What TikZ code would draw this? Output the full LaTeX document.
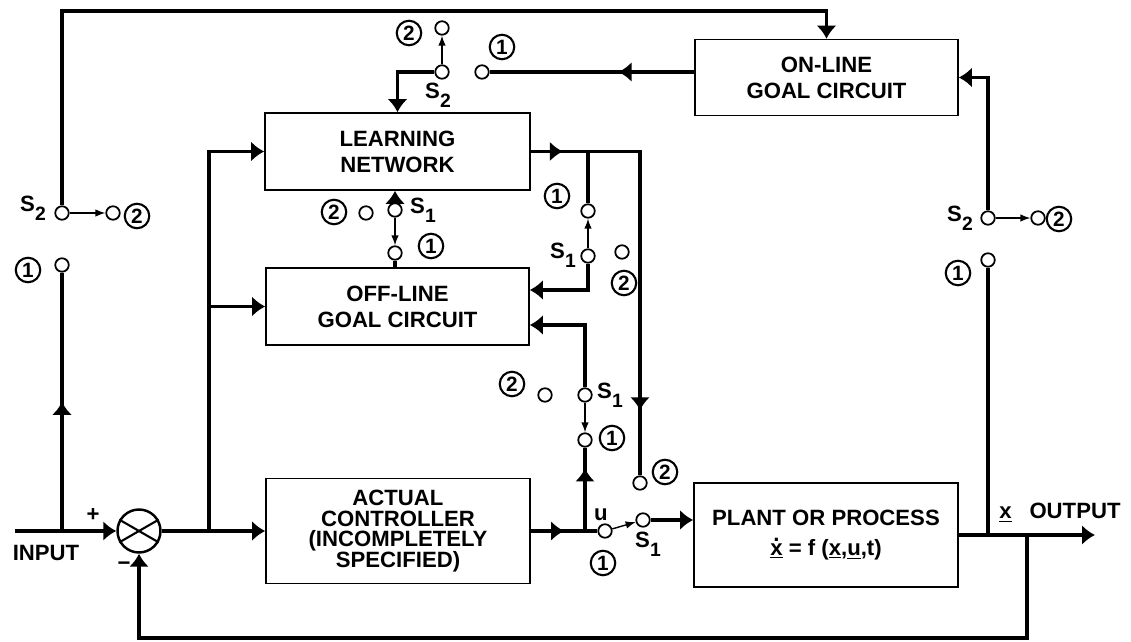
\documentclass[tikz,border=0pt]{standalone}
\usepackage{fontspec}
\setmainfont{Liberation Sans}
\usetikzlibrary{arrows.meta,decorations.markings}
\newcommand\swS[1]{S\raisebox{-0.4em}{\fontsize{11}{11}\selectfont #1}}
\newcommand\xdot{\ooalign{x\cr\hidewidth\raisebox{0.62em}{.}\hidewidth\cr}}
\tikzset{
  blk/.style={draw, line width=0.9pt, align=center, inner sep=0pt},
  term/.style={circle, draw, line width=1pt, fill=white, minimum size=2.7mm, inner sep=0pt},
  num/.style={circle, draw, line width=1.2pt, minimum size=4.9mm, inner sep=0pt, font=\fontsize{11.8}{11.8}\selectfont\bfseries},
  sig/.style={line width=2.1pt},
  thinarr/.style={line width=0.8pt, -{Latex[length=2mm,width=1.5mm]}},
  midarr/.style={postaction={decorate, decoration={markings, mark=at position #1 with {\arrow{Latex[length=2.6mm,width=4mm]}}}}}
}
\begin{document}
\begin{tikzpicture}[x=0.2mm,y=-0.2mm,font=\fontsize{12.6}{14.8}\selectfont\bfseries,>={Latex[length=2.6mm,width=4mm]}]
\useasboundingbox (0,0) rectangle (1131,642);
% blocks
\node[blk, minimum width=53mm, minimum height=15.4mm] (learn) at (397.5,151.5) {LEARNING\\NETWORK};
\node[blk, minimum width=52.6mm, minimum height=15.4mm] (offl) at (397.5,306.5) {OFF-LINE\\GOAL CIRCUIT};
\node[blk, minimum width=52.8mm, minimum height=21mm, font=\fontsize{12.6}{11.8}\selectfont\bfseries] (ctrl) at (398,531) {ACTUAL\\CONTROLLER\\(INCOMPLETELY\\SPECIFIED)};
\node[blk, minimum width=52.8mm, minimum height=20.8mm] (plant) at (826,535) {PLANT OR PROCESS\\[2pt]\underline{\xdot} = f (\underline{x},\underline{u},t)};
\node[blk, minimum width=52.6mm, minimum height=15.2mm] (onl) at (826.5,77.5) {ON-LINE\\GOAL CIRCUIT};
\node[circle, draw, line width=1.4pt, minimum size=8.6mm, inner sep=0pt] (sum) at (139,531) {};
\draw[line width=1.2pt] (sum.150) -- (sum.330) (sum.30) -- (sum.210);
% switch terminals
\node[term] (tLs) at (62,213) {};
\node[term] (tL2) at (113,213) {};
\node[term] (tL1) at (62,265) {};
\node[term] (tTs) at (442,72) {};
\node[term] (tT2) at (442,28) {};
\node[term] (tT1) at (482,72) {};
\node[term] (tBs) at (395,210) {};
\node[term] (tB1) at (395,253) {};
\node[term] (tB2) at (366,213) {};
\node[term] (tO1) at (588,211) {};
\node[term] (tOs) at (588,256) {};
\node[term] (tO2) at (622,252) {};
\node[term] (tFs) at (585,395) {};
\node[term] (tF1) at (585,440) {};
\node[term] (tF2) at (545,395) {};
\node[term] (tPu) at (605,531) {};
\node[term] (tPs) at (643,520) {};
\node[term] (tP2) at (640,483) {};
\node[term] (tRs) at (988,218) {};
\node[term] (tR2) at (1038,218) {};
\node[term] (tR1) at (988,260) {};
\coordinate (inp) at (15,531);
\coordinate (topL) at (62,11);
\coordinate (busB) at (209,531);
\coordinate (lo) at (640,151.5);
\coordinate (outE) at (1095,535);
\coordinate (fbB) at (1027,638);
% connectors
\draw[sig,->] (inp) -- (sum);
\draw[sig,midarr=0.5] (tL1 |- sum) -- (tL1);
\draw[sig,->] (tLs) -- (topL) -| (onl.north);
\draw[thinarr] (tLs) -- (tL2);
\draw[sig,->] (sum) -- (ctrl);
\draw[sig,->] (busB) |- (learn.west);
\draw[sig,->] (busB |- offl.west) -- (offl.west);
\draw[sig,->] (tTs) -| (learn.north);
\draw[thinarr] (tTs) -- (tT2);
\draw[sig,midarr=0.37] (onl.west |- tT1) -- (tT1);
\draw[sig,->] (tBs) -- (tBs |- learn.south);
\draw[thinarr] (tBs) -- (tB1);
\draw[sig] (tB1) -- (tB1 |- offl.north);
\draw[sig,midarr=6.4mm,midarr=73.6mm] (learn.east) -- (lo) -- (tP2);
\draw[sig] (tO1 |- learn.east) -- (tO1);
\draw[thinarr] (tOs) -- (tO1);
\draw[sig,->] (tOs) |- ([yshift=3.3mm]offl.east);
\draw[sig,->] (tFs) |- ([yshift=-3.7mm]offl.east);
\draw[thinarr] (tFs) -- (tF1);
\draw[sig,midarr=0.75] (tF1 |- ctrl.east) -- (tF1);
\draw[sig,midarr=0.5] (ctrl) -- (tPu);
\draw[thinarr] (tPu) -- (tPs);
\draw[sig,->] (tPs) -- (tPs -| plant.west);
\draw[sig,->] (plant) -- (outE);
\draw[sig] (tR1 |- plant.east) -- (tR1);
\draw[sig,->] (tRs) |- (onl.east);
\draw[thinarr] (tRs) -- (tR2);
\draw[sig,->] (fbB |- plant.east) -- (fbB) -| (sum.south);
% labels
\node[num] (nL2) at (137,216) {2};
\node[num] (nL1) at (28,270) {1};
\node[num] (nT2) at (409,33) {2};
\node[num] (nT1) at (502,47) {1};
\node[num] (nB2) at (334,212) {2};
\node[num] (nB1) at (431,246) {1};
\node[num] (nO1) at (557,196) {1};
\node[num] (nO2) at (624,283) {2};
\node[num] (nF2) at (512,384) {2};
\node[num] (nF1) at (612,438) {1};
\node[num] (nP2) at (665,472) {2};
\node[num] (nP1) at (603,563) {1};
\node[num] (nR2) at (1059,219) {2};
\node[num] (nR1) at (958,273) {1};
\node (sL) at (33,208) {\swS{2}};
\node (sT) at (438,95) {\swS{2}};
\node (sB) at (423,210) {\swS{1}};
\node (sO) at (563,255) {\swS{1}};
\node (sF) at (610,395) {\swS{1}};
\node (sP) at (648,544) {\swS{1}};
\node (sR) at (960,218) {\swS{2}};
\node (ulab) at (601,515) {u};
\node (plus) at (93,515) {+};
\node (minus) at (124,566) {−};
\node (input) at (46,553) {INPUT};
\node (xout) at (1060,513) {\underline{x}\hspace{0.8em}OUTPUT};
\end{tikzpicture}
\end{document}
